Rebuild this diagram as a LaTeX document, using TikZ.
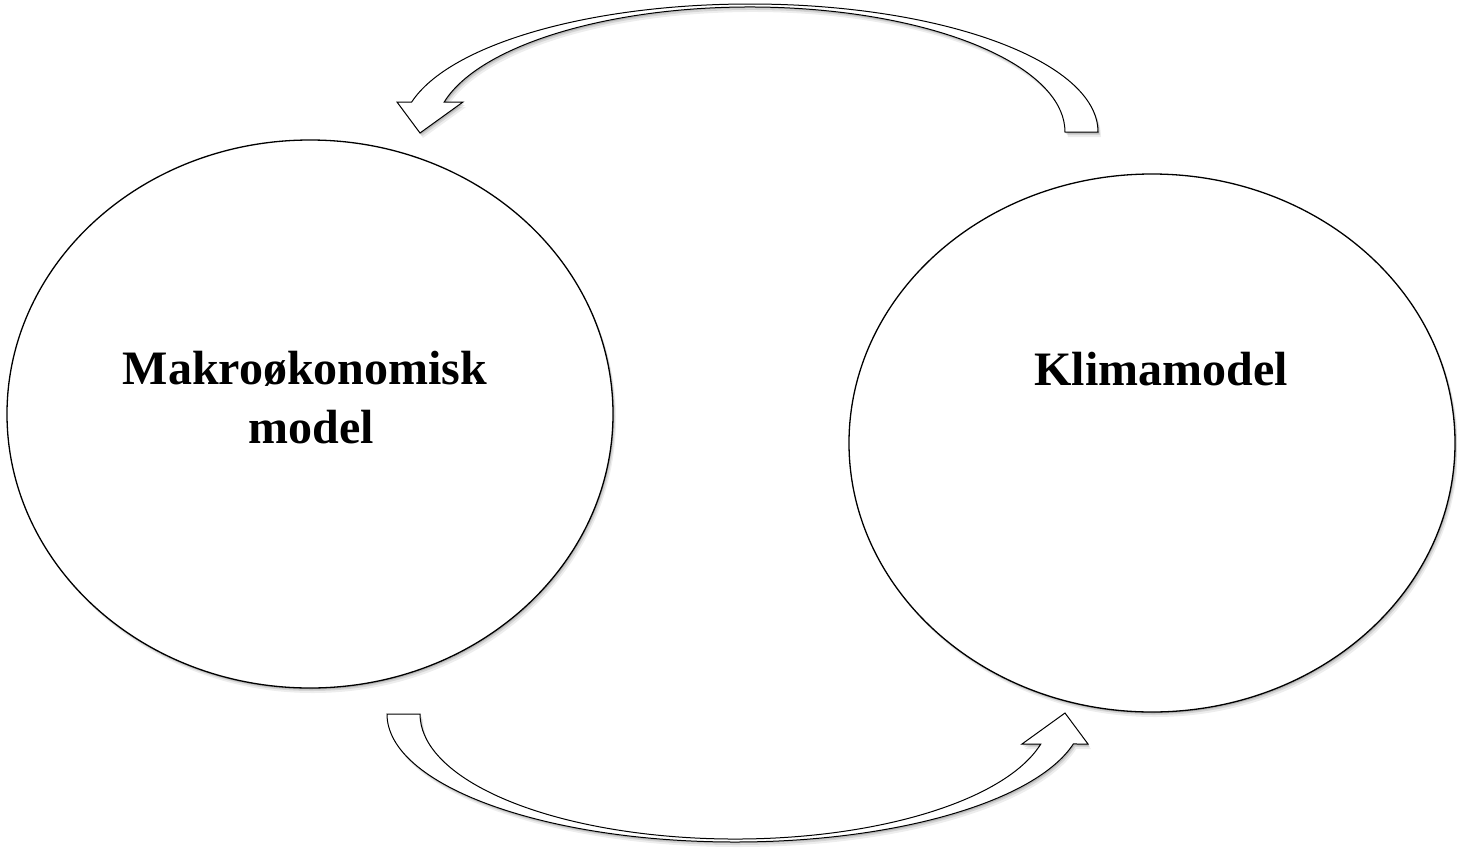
\documentclass[tikz,border=0pt]{standalone}
\usepackage{fontspec}
\setmainfont{Liberation Serif}
\usetikzlibrary{shapes.geometric,shadows}
\begin{document}
\begin{tikzpicture}[x=1pt,y=1pt,
  softshadow/.style={
    drop shadow={shadow xshift=1pt,shadow yshift=-1.5pt,opacity=0.14,fill=black},
    drop shadow={shadow xshift=2pt,shadow yshift=-3pt,opacity=0.10,fill=black},
    drop shadow={shadow xshift=3pt,shadow yshift=-5pt,opacity=0.07,fill=black}},
  bubble/.style={draw=black,line width=1.3pt,fill=white,ellipse,inner sep=0pt,softshadow},
  blockarrow/.style={draw=black,line width=1pt,fill=white,line join=miter,softshadow},
  lbl/.style={font=\fontsize{48}{58}\selectfont\bfseries,inner sep=0pt,anchor=base},
  curvarr/.pic={
    \path[blockarrow] (348,0) arc[start angle=0,end angle=166.45,x radius=348pt,y radius=128pt]
      -- (-353,30) -- (-330,-1) -- (-287,30) -- (-305.8,30)
      arc[start angle=166.11,end angle=0,x radius=315pt,y radius=125pt] -- cycle;
  }]
\useasboundingbox (0,0) rectangle (1457,-847);
\fill[white] (0,0) rectangle (1457,-847);

\node[bubble,minimum width=606pt,minimum height=548pt] (macro) at (310,-414) {};
\node[bubble,minimum width=606pt,minimum height=538pt] (klima) at (1152,-443) {};

\node[lbl] (macroA) at (305,-384) {Makroøkonomisk};
\node[lbl] (macroB) at (311,-443) {model};
\node[lbl] (klimaA) at (1161,-385) {Klimamodel};

\pic (toparrow) at (750,-132) {curvarr};
\pic[rotate=180] (botarrow) at (735,-714) {curvarr};
\end{tikzpicture}
\end{document}
